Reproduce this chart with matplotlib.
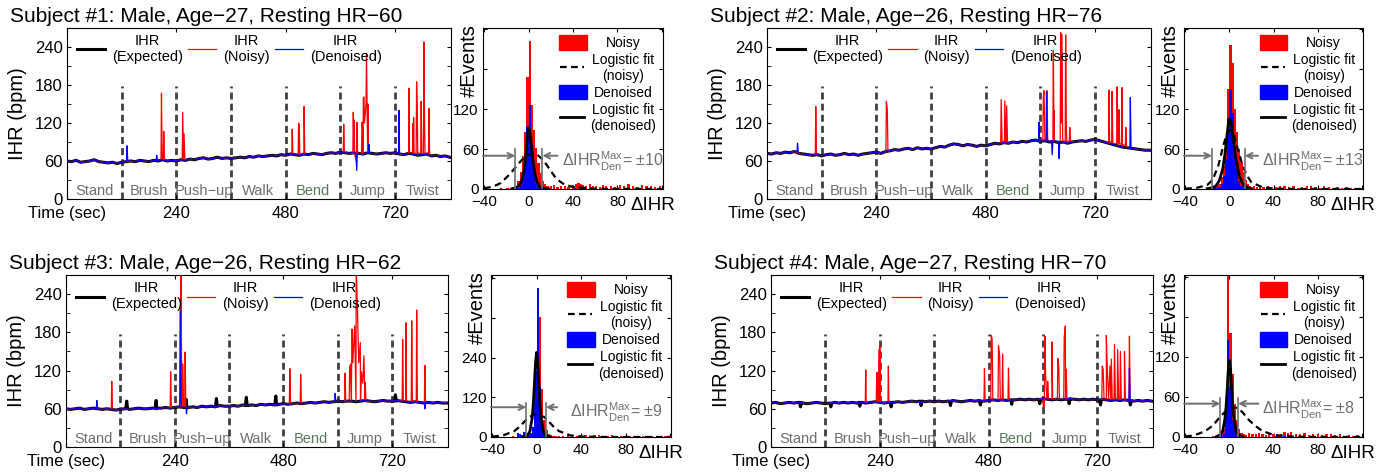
import numpy as np
import matplotlib.pyplot as plt
from matplotlib.patches import Rectangle

plt.rcParams['font.family'] = ['Liberation Sans', 'DejaVu Sans']
plt.rcParams['mathtext.fontset'] = 'custom'
plt.rcParams['mathtext.rm'] = 'Liberation Sans'
plt.rcParams['mathtext.it'] = 'Liberation Sans:italic'
plt.rcParams['mathtext.bf'] = 'Liberation Sans:bold'

# 10 s grid of the expected IHR trace (sec)
t_grid = list(range(0, 850, 10))

activities = ['Stand', 'Brush', 'Push\u2212up', 'Walk', 'Bend', 'Jump', 'Twist']
act_pos = [60, 180, 300, 420, 540, 660, 780]
boundaries = [120, 240, 360, 480, 600, 720]

titles = ['Subject #1: Male, Age\u221227, Resting HR\u221260',
          'Subject #2: Male, Age\u221226, Resting HR\u221276',
          'Subject #3: Male, Age\u221226, Resting HR\u221262',
          'Subject #4: Male, Age\u221227, Resting HR\u221270']

# ---------------- subject 1 ----------------
s1_exp = [60, 59, 61, 58, 59, 60, 62, 59, 58,
          57, 58, 56, 58, 59, 60, 59, 61, 60,
          59, 61, 60, 62, 60, 61, 60, 62, 61,
          63, 62, 64, 65, 63, 64, 66, 64, 65,
          64, 65, 66, 65, 67, 66, 68, 67, 68,
          69, 68, 70, 69, 71, 70, 69, 71, 70,
          72, 71, 70, 72, 73, 72, 74, 73, 72,
          73, 72, 71, 73, 72, 71, 72, 73, 72,
          73, 71, 70, 72, 71, 69, 70, 71, 68,
          69, 67, 68, 66]
s1_exp_t = []
s1_exp_v = []
s1_noisy_t = [206.5, 207.5, 209, 211.5, 212.5, 214,
              253, 254, 256, 257, 259,
              493.5, 494.5, 496, 507.5, 508.5, 510, 511, 519.5, 520.5, 522,
              606.5, 607.5, 609, 627.5, 628.5, 630, 631, 635, 636.5, 638,
              646.5, 647.5, 649, 650.5, 652, 653, 656.5, 657.5, 659, 660.5, 662,
              749.5, 750.5, 752, 758.5, 759.5, 761, 762, 766.5, 767.5, 769,
              770, 776.5, 777.5, 779, 782.5, 783.5, 785, 786, 793.5, 794.5, 796]
s1_noisy_v = [62, 167, 63, 64, 107, 62,
              61, 137, 64, 103, 61,
              70, 110, 70, 70, 120, 117, 71, 71, 146, 71,
              73, 118, 73, 72, 137, 125, 72, 60, 121, 72,
              72, 121, 112, 159, 161, 120, 150, 230, 130, 150, 72,
              72, 175, 72, 72, 119, 129, 72, 72, 185, 137,
              72, 72, 154, 72, 72, 248, 119, 72, 70, 143, 70]
s1_den_t = [131, 132, 133.5, 196, 197, 198.5, 634.5, 636, 637.5, 662, 663, 664.5, 728, 729, 731]
s1_den_v = [60, 84, 60, 61, 69, 61, 72, 45, 72, 72, 86, 72, 72, 140, 72]

s1_hn_bins = [-25, -19, -16, -13, -11, -9, -7, -5, -3, -1, 1, 3, 5, 7, 9, 11, 13, 15,
              17, 20, 23, 26, 29, 33, 36, 40, 43, 45, 47, 49, 52, 55, 58, 61, 64, 67, 70,
              74, 78, 82, 86, 90, 94, 98, 102, 106, 110, 114, 118]
s1_hn_cnt = [1, 2, 2, 3, 5, 12, 25, 50, 85, 168, 223, 126, 88, 61, 39, 24, 12, 7,
             5, 4, 6, 3, 4, 5, 3, 6, 7, 9, 8, 6, 5, 7, 4, 5, 3, 6, 4,
             5, 3, 6, 4, 7, 5, 3, 6, 4, 5, 3, 4]
s1_hd_bins = [-11, -9, -7, -5, -3, -1, 1, 3, 5, 7, 9, 11, 42, 48]
s1_hd_cnt = [1, 2, 5, 14, 45, 95, 126, 62, 25, 9, 3, 1, 2, 1]
s1_fn_x = [-40, -32, -25, -17, -12, -7, -2, 3, 8, 13, 18, 25, 32, 40, 60, 120]
s1_fn_y = [1, 3.5, 9, 22, 32, 42, 50, 53, 51, 44, 32, 15, 7, 3, 0.3, 0]
s1_fd_x = [-15, -11, -8, -6, -4, -3, -2, -1, 0, 1, 2, 3, 4, 6, 8, 10, 13, 18]
s1_fd_y = [0.3, 2, 6, 13, 28, 42, 60, 80, 92, 88, 75, 58, 42, 20, 9, 3, 1, 0.2]

# ---------------- subject 2 ----------------
s2_exp = [72, 71, 73, 72, 74, 73, 75, 72, 71,
          70, 69, 70, 68, 70, 71, 69, 70, 72,
          70, 71, 69, 71, 72, 73, 74, 72, 75,
          76, 78, 77, 79, 80, 78, 81, 79, 80,
          79, 81, 83, 82, 85, 87, 86, 84, 86,
          85, 83, 85, 84, 86, 88, 87, 89, 88,
          90, 89, 91, 90, 92, 93, 91, 92, 90,
          91, 89, 90, 88, 90, 91, 92, 91, 93,
          94, 92, 90, 88, 86, 84, 82, 81, 80,
          79, 78, 77, 77]
s2_exp_t = []
s2_exp_v = []
s2_noisy_t = [106, 107, 108.5,
              261, 262, 264, 265.5,
              513, 514, 516, 521, 522, 524, 525, 526, 528,
              605.5, 606.5, 608, 610, 613.5, 614.5, 616, 627.5, 628.5, 630,
              631, 643.5, 644.5, 646, 647.5, 649, 654.5, 655.5, 657, 658, 663.5, 664.5, 666,
              749.5, 750.5, 752, 756.5, 757.5, 759, 767.5, 768.5, 770, 771.5,
              772.5, 774, 778.5, 779.5, 781, 786.5, 787.5, 789]
s2_noisy_v = [70, 146, 70,
              75, 154, 142, 75,
              88, 157, 88, 88, 155, 88, 88, 147, 88,
              92, 160, 171, 92, 92, 171, 92, 92, 234, 140,
              92, 92, 263, 120, 260, 92, 92, 259, 110, 92, 92, 113, 92,
              90, 172, 90, 90, 170, 90, 88, 177, 120, 88,
              141, 88, 86, 176, 86, 84, 113, 84]
s2_den_t = [66, 67, 68.5, 596, 597, 598.5, 612.5, 613.5, 615, 616, 624.5, 626, 627.5,
            639.5, 641, 642.5, 796.5, 797.5, 799]
s2_den_v = [75, 88, 74, 92, 121, 92, 92, 169, 103, 92, 92, 70, 92, 91, 64, 91, 80, 160, 80]

s2_hn_bins = [-17, -15, -13, -11, -9, -7, -5, -3, -1, 1, 3, 5, 7, 9, 11, 13, 15, 17, 19,
              22, 25, 28, 31, 35, 38, 42, 46, 50, 54, 58, 62, 66, 70, 74, 78, 82, 86,
              90, 94, 98, 102, 106, 110, 114, 118]
s2_hn_cnt = [1, 2, 3, 5, 8, 18, 35, 70, 150, 216, 189, 120, 85, 60, 40, 25, 14, 8, 5,
             4, 3, 5, 3, 4, 2, 3, 4, 5, 3, 4, 2, 3, 4, 5, 3, 2, 4,
             3, 2, 3, 2, 3, 2, 1, 2]
s2_hd_bins = [-13, -11, -9, -7, -5, -3, -1, 1, 3, 5, 7, 9, 11, 13, 15]
s2_hd_cnt = [1, 2, 3, 8, 20, 45, 106, 151, 114, 60, 30, 12, 5, 2, 1]
s2_fn_x = [-40, -30, -20, -15, -10, -5, -2, 1, 4, 8, 12, 16, 20, 30, 40, 60, 120]
s2_fn_y = [0.5, 1.5, 6, 14, 35, 68, 84, 88, 82, 58, 35, 20, 10, 2.5, 0.6, 0, 0]
s2_fd_x = [-20, -15, -12, -9, -6, -4, -2, -1, 0, 1, 2, 4, 6, 9, 12, 15, 20]
s2_fd_y = [0.5, 2, 5, 13, 30, 52, 82, 97, 105, 104, 95, 70, 45, 20, 8, 3, 0.5]

# ---------------- subject 3 ----------------
s3_exp = [60, 59, 60, 61, 59, 60, 61, 60, 59,
          60, 59, 58, 59, 60, 59, 60, 61, 60,
          60, 61, 60, 61, 62, 61, 62, 63, 62,
          62, 63, 62, 64, 63, 64, 63, 65, 64,
          64, 65, 64, 66, 65, 66, 65, 67, 66,
          67, 66, 67, 68, 67, 68, 69, 68, 69,
          70, 69, 70, 71, 70, 71, 72, 71, 72,
          72, 71, 72, 73, 72, 71, 72, 73, 72,
          72, 73, 72, 71, 70, 71, 70, 69, 70,
          69, 70, 69, 69]
s3_exp_t = [132, 134, 136, 197, 199, 201, 263, 265, 267, 330, 332, 334,
            396, 398, 400, 461, 463, 465, 725, 727, 729]
s3_exp_v = [60, 72, 60, 61, 73, 61, 62, 75, 62, 64, 76, 64,
            65, 78, 65, 66, 80, 66, 72, 82, 72]
s3_noisy_t = [100, 101, 102.5,
              230, 231, 232.5,
              253, 254, 255.5, 256.5, 258, 259.5, 262, 263, 264.5,
              493, 494, 495.5, 517, 518, 519.5,
              615, 616, 617.5, 625, 626, 628, 630, 631.5, 633, 637,
              640.5, 643.5, 646, 649.5, 652, 655, 657.5, 660.5, 662,
              742, 743, 744.5, 749, 750, 751.5, 762, 763, 764.5, 773, 774, 775.5, 791, 792, 793.5]
s3_noisy_v = [59, 103, 59,
              61, 118, 61,
              62, 285, 62, 130, 130, 62, 62, 149, 62,
              67, 123, 67, 68, 114, 68,
              71, 116, 71, 71, 124, 130, 100, 185, 132, 190,
              285, 211, 132, 164, 118, 100, 143, 101, 71,
              72, 169, 72, 72, 195, 72, 71, 198, 71, 70, 215, 70, 70, 128, 70]
s3_den_t = [67, 68, 69.5, 251, 252, 254, 256, 265, 266, 267.5, 593, 594, 595.5, 791, 792, 793.5]
s3_den_v = [60, 73, 60, 62, 214, 70, 62, 62, 52, 62, 71, 84, 71, 70, 60, 70]

s3_hn_bins = [-21, -17, -13, -9, -7, -5, -3, -1, 1, 3, 5, 7, 9, 11, 13, 15, 17,
              20, 24, 28, 32, 36, 40, 44, 48, 52, 56, 60, 64, 68, 72, 76, 80, 84, 88,
              92, 96, 100, 104, 108, 112, 116, 120]
s3_hn_cnt = [2, 3, 3, 5, 6, 8, 25, 150, 300, 364, 144, 50, 20, 8, 5, 4, 3,
             4, 3, 5, 4, 3, 6, 5, 4, 7, 5, 4, 3, 5, 4, 3, 4, 3, 2,
             3, 4, 3, 2, 3, 2, 3, 2]
s3_hd_bins = [-17, -15, -13, -11, -7, -5, -3, -1, 1, 3, 5, 7, 9]
s3_hd_cnt = [12, 8, 5, 15, 5, 12, 30, 200, 451, 150, 40, 12, 4]
s3_fn_x = [-40, -30, -20, -15, -10, -7, -3, 0, 3, 7, 10, 15, 20, 30, 40, 60, 120]
s3_fn_y = [1, 5, 18, 32, 50, 60, 66, 68, 66, 60, 50, 32, 18, 5, 1.5, 0, 0]
s3_fd_x = [-12, -8, -6, -4, -3, -2, -1, 0, 1, 2, 3, 4, 6, 8, 12]
s3_fd_y = [0.5, 5, 18, 58, 100, 160, 225, 256, 225, 160, 100, 58, 18, 5, 0.5]

# ---------------- subject 4 ----------------
s4_exp = [69, 70, 68, 69, 70, 69, 70, 69, 68,
          69, 70, 69, 68, 69, 70, 69, 70, 69,
          70, 69, 70, 69, 70, 71, 70, 69, 70,
          70, 71, 70, 71, 72, 71, 70, 71, 72,
          71, 72, 71, 72, 73, 72, 71, 72, 73,
          72, 73, 72, 73, 74, 73, 74, 73, 74,
          74, 75, 74, 75, 74, 75, 76, 75, 74,
          75, 74, 75, 76, 75, 74, 75, 74, 75,
          74, 75, 74, 73, 74, 73, 74, 73, 72,
          73, 72, 73, 72]
s4_exp_t = [63, 65, 67, 130, 132, 134, 194, 196, 198, 263, 265, 267, 329, 331, 333,
            394, 396, 398, 460, 462, 464, 529, 531, 533, 591, 593, 595, 656, 658, 660,
            725, 727, 729, 791, 793, 795]
s4_exp_v = [70, 63, 70, 69, 63, 69, 70, 64, 70, 70, 63, 70, 72, 65, 72,
            72, 65, 72, 72, 66, 72, 74, 67, 74, 74, 68, 74, 75, 68, 75,
            74, 66, 74, 73, 66, 73]
s4_noisy_t = [208, 209, 210.5,
              232, 233, 234, 235.5, 237, 238, 240, 241.5,
              258, 259, 260.5,
              470, 471, 472.5, 485, 486, 488, 489.5, 501, 502, 504.5,
              506, 510, 511, 512.5, 523, 524, 525.5,
              601, 603, 604.5, 606, 609, 610.5, 612, 619, 620, 621.5,
              632, 633, 635, 636.5, 646, 647, 649.5, 651.5, 653,
              730, 731, 733, 735, 739, 740, 742, 745, 748, 751,
              753, 757, 758, 760, 764, 765, 767, 770, 771, 773,
              779, 780, 782, 790, 791, 792.5]
s4_noisy_v = [70, 121, 70,
              70, 101, 117, 70, 70, 153, 159, 70,
              70, 127, 70,
              72, 123, 72, 73, 175, 169, 73, 73, 159, 143,
              73, 73, 146, 73, 74, 124, 74,
              62, 62, 174, 111, 75, 103, 75, 75, 165, 75,
              75, 139, 127, 75, 75, 172, 190, 122, 75,
              74, 127, 122, 74, 74, 175, 124, 74, 127, 138,
              74, 74, 161, 74, 74, 153, 74, 74, 150, 74,
              73, 150, 73, 72, 174, 72]
s4_den_t = [790, 791, 792.5]
s4_den_v = [72, 124, 72]

s4_hn_bins = [-15, -11, -9, -7, -5, -3, -1, 1, 3, 5, 7, 9, 11, 13, 15,
              18, 21, 24, 27, 30, 33, 36, 40, 44, 47, 50, 53, 56, 60, 64, 68, 72, 76,
              80, 84, 88, 92, 96, 100, 104, 108, 112, 116]
s4_hn_cnt = [2, 3, 4, 5, 12, 40, 300, 156, 95, 50, 25, 12, 6, 4, 3,
             6, 5, 4, 6, 5, 3, 4, 5, 3, 4, 8, 6, 7, 5, 4, 6, 3, 4,
             5, 3, 4, 5, 3, 4, 2, 3, 2, 3]
s4_hd_bins = [-9, -7, -5, -3, -1, 1, 3, 5, 7, 9, 42, 46, 50, 54]
s4_hd_cnt = [1, 2, 5, 40, 146, 75, 25, 10, 3, 1, 2, 3, 2, 1]
s4_fn_x = [-40, -33, -26, -20, -15, -10, -5, 0, 3, 8, 12, 18, 24, 30, 40, 60, 120]
s4_fn_y = [1, 2, 6, 11, 17, 27, 36, 43, 45, 43, 37, 25, 16, 9, 3, 0.3, 0]
s4_fd_x = [-12, -8, -6, -4, -3, -2, -1, 0, 1, 2, 3, 4, 6, 8, 12]
s4_fd_y = [0.3, 3, 9, 27, 45, 70, 100, 115, 104, 75, 48, 30, 10, 3, 0.3]

# max denoising error markers
den_max_txt = ['\u00b110', '\u00b113', '\u00b19', '\u00b18']
den_lo = [-12, -15.7, -9.3, -8.2]
den_hi = [12.4, 13.9, 8.4, 7.9]
arrow_y = [50, 50, 90, 50]
line_top = [60, 60, 102, 59]
arrow_from = [26, 26, 18.5, 26.4]
hist_ymax = [242, 242, 490, 243]
hist_yticks = [[0, 60, 120, 180, 240], [0, 60, 120, 180, 240],
               [0, 120, 240, 360, 480], [0, 60, 120, 180, 240]]

GRAY = '#707070'


def merge(t1, v1, t2, v2):
    t = np.concatenate([np.asarray(t1, float), np.asarray(t2, float)])
    v = np.concatenate([np.asarray(v1, float), np.asarray(v2, float)])
    o = np.argsort(t, kind='stable')
    return t[o], v[o]


def draw_ts(ax, title, exp, et, ev, nt, nv, dt, dv):
    te, ve = merge(t_grid, exp, et, ev)
    tn, vn = merge(t_grid, exp, nt, nv)
    td, vd = merge(t_grid, exp, dt, dv)
    ax.vlines(boundaries, 0, 178, colors='#404040', linestyles=(0, (2.5, 1.5)), lw=2, zorder=1)
    l1, = ax.plot(te, ve, color='black', lw=2.2, zorder=2)
    l2, = ax.plot(tn, vn, color='red', lw=0.9, zorder=3)
    l3, = ax.plot(td, vd, color='blue', lw=0.9, zorder=4)
    ax.set_xlim(0, 843)
    ax.set_ylim(0, 270)
    ax.set_yticks([0, 60, 120, 180, 240])
    ax.set_yticks([30, 90, 150, 210], minor=True)
    ax.set_xticks([0, 240, 480, 720])
    ax.set_xticklabels(['Time (sec)', '240', '480', '720'])
    ax.tick_params(which='both', direction='in', top=True, right=True, length=3, labelsize=12)
    ax.tick_params(axis='x', pad=5)
    ax.tick_params(axis='y', pad=3)
    for a, p in zip(activities, act_pos):
        c = '#587a58' if a == 'Bend' else '#6e6e6e'
        ax.text(p, 12.5, a, ha='center', va='center', fontsize=10.5, color=c)
    leg = ax.legend([l1, l2, l3], ['IHR\n(Expected)', 'IHR\n(Noisy)', 'IHR\n(Denoised)'],
                    ncol=3, frameon=False, loc='upper left', bbox_to_anchor=(0.026, 0.965),
                    fontsize=10.5, handlelength=1.95, handletextpad=0.45, columnspacing=0.35,
                    borderpad=0, borderaxespad=0)
    for t in leg.get_texts():
        t.set_multialignment('center')
    ax.text(-0.13, 0.5, 'IHR (bpm)', rotation=90, ha='center', va='center',
            fontsize=14.5, transform=ax.transAxes)
    ax.text(-0.149, 1.065, title, ha='left', va='center', fontsize=15, transform=ax.transAxes)


def draw_hist(ax, k, nb, nc, db, dc, fnx, fny, fdx, fdy):
    ax.bar(nb, nc, width=2, color='red', lw=0, zorder=2)
    ax.bar(db, dc, width=2, color='blue', lw=0, zorder=3)
    ax.plot(fnx, fny, color='black', ls=(0, (3, 2)), lw=1.6, zorder=4)
    ax.plot(fdx, fdy, color='black', lw=2, zorder=5)
    lo, hi = den_lo[k], den_hi[k]
    ax.plot([lo, lo], [0, line_top[k]], color=GRAY, lw=1.2, zorder=6)
    ax.plot([hi, hi], [0, line_top[k]], color=GRAY, lw=1.2, zorder=6)
    ax.annotate('', xy=(lo, arrow_y[k]), xytext=(-41, arrow_y[k]),
                arrowprops=dict(arrowstyle='->', color=GRAY, lw=1.4, shrinkA=0, shrinkB=0))
    ax.annotate('', xy=(hi, arrow_y[k]), xytext=(arrow_from[k], arrow_y[k]),
                arrowprops=dict(arrowstyle='->', color=GRAY, lw=1.4, shrinkA=0, shrinkB=0))
    ty = 0.15 if k == 2 else 0.17
    ax.text(0.437, ty, '\u0394IHR$^{\\mathrm{Max}}_{\\mathrm{Den}}$= ' + den_max_txt[k],
            transform=ax.transAxes, ha='left', va='center', fontsize=11.5, color=GRAY)
    ax.set_xlim(-41, 121)
    ax.set_ylim(0, hist_ymax[k])
    ax.set_xticks([-40, 0, 40, 80, 120])
    ax.set_xticklabels(['\u221240', '0', '40', '80', ''])
    yt = hist_yticks[k]
    ax.set_yticks(yt)
    ax.set_yticklabels([str(yt[0]), str(yt[1]), str(yt[2]), '', ''])
    ax.tick_params(direction='in', top=True, right=True, length=3, labelsize=11)
    ax.tick_params(axis='x', pad=4.5)
    ax.tick_params(axis='y', pad=3)
    ax.text(0.943, -0.105, '\u0394IHR', transform=ax.transAxes, ha='center', va='center', fontsize=13.5)
    ax.text(-0.078, 0.80, '#Events', rotation=90, transform=ax.transAxes,
            ha='center', va='center', fontsize=14.5)
    # legend
    tr = ax.transAxes
    ax.add_patch(Rectangle((0.422, 0.863), 0.154, 0.094, transform=tr, color='red', zorder=7))
    ax.plot([0.428, 0.562], [0.758, 0.758], transform=tr, color='black', ls=(0, (3, 2)), lw=1.6, zorder=7)
    ax.add_patch(Rectangle((0.422, 0.557), 0.154, 0.089, transform=tr, color='blue', zorder=7))
    ax.plot([0.428, 0.562], [0.449, 0.449], transform=tr, color='black', lw=2, zorder=7)
    for y, s in [(0.909, 'Noisy'), (0.752, 'Logistic fit\n(noisy)'),
                 (0.598, 'Denoised'), (0.441, 'Logistic fit\n(denoised)')]:
        ax.text(0.78, y, s, transform=tr, ha='center', va='center', fontsize=10,
                multialignment='center', zorder=8)


fig = plt.figure(figsize=(13.86, 4.72), dpi=100)
ts_pos = [[0.0483, 0.5784, 0.2771, 0.3623], [0.5534, 0.5784, 0.2771, 0.3623],
          [0.0476, 0.0530, 0.2756, 0.3644], [0.5563, 0.0530, 0.2756, 0.3644]]
h_pos = [[0.3485, 0.5996, 0.1299, 0.3411], [0.8543, 0.5996, 0.1291, 0.3411],
         [0.3543, 0.0742, 0.1299, 0.3432], [0.8543, 0.0742, 0.1291, 0.3432]]

ts_data = [(s1_exp, s1_exp_t, s1_exp_v, s1_noisy_t, s1_noisy_v, s1_den_t, s1_den_v),
           (s2_exp, s2_exp_t, s2_exp_v, s2_noisy_t, s2_noisy_v, s2_den_t, s2_den_v),
           (s3_exp, s3_exp_t, s3_exp_v, s3_noisy_t, s3_noisy_v, s3_den_t, s3_den_v),
           (s4_exp, s4_exp_t, s4_exp_v, s4_noisy_t, s4_noisy_v, s4_den_t, s4_den_v)]
h_data = [(s1_hn_bins, s1_hn_cnt, s1_hd_bins, s1_hd_cnt, s1_fn_x, s1_fn_y, s1_fd_x, s1_fd_y),
          (s2_hn_bins, s2_hn_cnt, s2_hd_bins, s2_hd_cnt, s2_fn_x, s2_fn_y, s2_fd_x, s2_fd_y),
          (s3_hn_bins, s3_hn_cnt, s3_hd_bins, s3_hd_cnt, s3_fn_x, s3_fn_y, s3_fd_x, s3_fd_y),
          (s4_hn_bins, s4_hn_cnt, s4_hd_bins, s4_hd_cnt, s4_fn_x, s4_fn_y, s4_fd_x, s4_fd_y)]

for k in range(4):
    ax = fig.add_axes(ts_pos[k])
    draw_ts(ax, titles[k], *ts_data[k])
    axh = fig.add_axes(h_pos[k])
    draw_hist(axh, k, *h_data[k])

fig.savefig('out.png', dpi=100)
